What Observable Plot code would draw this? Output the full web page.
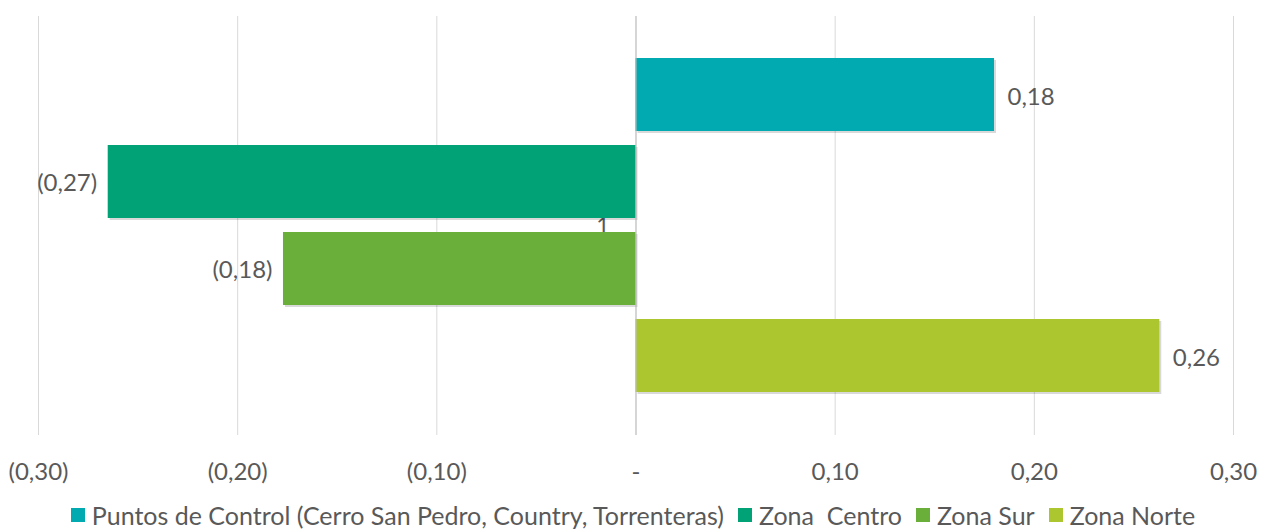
<!DOCTYPE html>
<html>
<head>
<meta charset="utf-8">
<script src="https://cdn.jsdelivr.net/npm/d3@7"></script>
<script src="https://cdn.jsdelivr.net/npm/@observablehq/plot@0.6"></script>
<style>
  html, body { margin: 0; padding: 0; background: #fff; }
  body { width: 1266px; height: 529px; overflow: hidden; font-family: Lato, "Open Sans", sans-serif; }
  #legend { display: flex; justify-content: center; gap: 14px; font-size: 25px; color: #595959; margin-top: 11px; line-height: 28px; }
  #legend span.item { display: inline-flex; align-items: center; }
  #legend span.sw { display: inline-block; width: 14px; height: 14px; margin-right: 7px; }
</style>
</head>
<body>
<div id="chart"></div>
<div id="legend"></div>
<script>
const series = ["Puntos de Control (Cerro San Pedro, Country, Torrenteras)", "Zona  Centro", "Zona Sur", "Zona Norte"];
const values = [0.18, -0.265, -0.177, 0.263];
const valueLabels = ["0,18", "(0,27)", "(0,18)", "0,26"];
const colors = ["#00AAB0", "#00A276", "#69AF39", "#ABC62F"];
const tickValues = [-0.3, -0.2, -0.1, 0, 0.1, 0.2, 0.3];
const tickLabels = ["(0,30)", "(0,20)", "(0,10)", "-", "0,10", "0,20", "0,30"];
const category = "1";

const data = series.map((s, i) => ({series: s, value: values[i], label: valueLabels[i], color: colors[i]}));
const pos = data.filter(d => d.value >= 0);
const neg = data.filter(d => d.value < 0);

const chart = Plot.plot({
  width: 1266,
  height: 490,
  marginLeft: 38,
  marginRight: 33,
  marginTop: 16,
  marginBottom: 55,
  style: {fontFamily: "Lato, 'Open Sans', sans-serif", fontSize: "24px", color: "#595959", background: "#fff"},
  x: {domain: [-0.3, 0.3], ticks: tickValues, tickFormat: (d) => tickLabels[tickValues.indexOf(Math.round(d * 10) / 10)], tickSize: 0, tickPadding: 27, label: null},
  y: {domain: series, range: [51, 400], paddingInner: 0.16, paddingOuter: 0.08, axis: null},
  marks: [
    Plot.ruleX(tickValues, {stroke: "#d9d9d9", strokeWidth: 1}),
    Plot.text([category], {x: 0, frameAnchor: "middle", dx: -33, dy: 1, text: d => d, fill: "#595959", fontSize: 23}),
    Plot.barX(data, {x1: 0, x2: "value", y: "series", fill: "#000", fillOpacity: 0.15, dx: 2, dy: 2}),
    Plot.barX(data, {x1: 0, x2: "value", y: "series", fill: d => d.color}),
    Plot.ruleX([0], {stroke: "#bfbfbf", strokeWidth: 1}),
    Plot.text(pos, {x: "value", y: "series", text: "label", textAnchor: "start", dx: 13, dy: 2, fill: "#595959", fontSize: 24}),
    Plot.text(neg, {x: "value", y: "series", text: "label", textAnchor: "end", dx: -11, dy: 1, fill: "#595959", fontSize: 24})
  ]
});
document.getElementById("chart").append(chart);

const legend = document.getElementById("legend");
series.forEach((s, i) => {
  const it = document.createElement("span");
  it.className = "item";
  const sw = document.createElement("span");
  sw.className = "sw";
  sw.style.background = colors[i];
  it.append(sw);
  const t = document.createElement("span");
  t.textContent = s;
  t.style.whiteSpace = "pre";
  it.append(t);
  legend.append(it);
});
</script>
</body>
</html>
